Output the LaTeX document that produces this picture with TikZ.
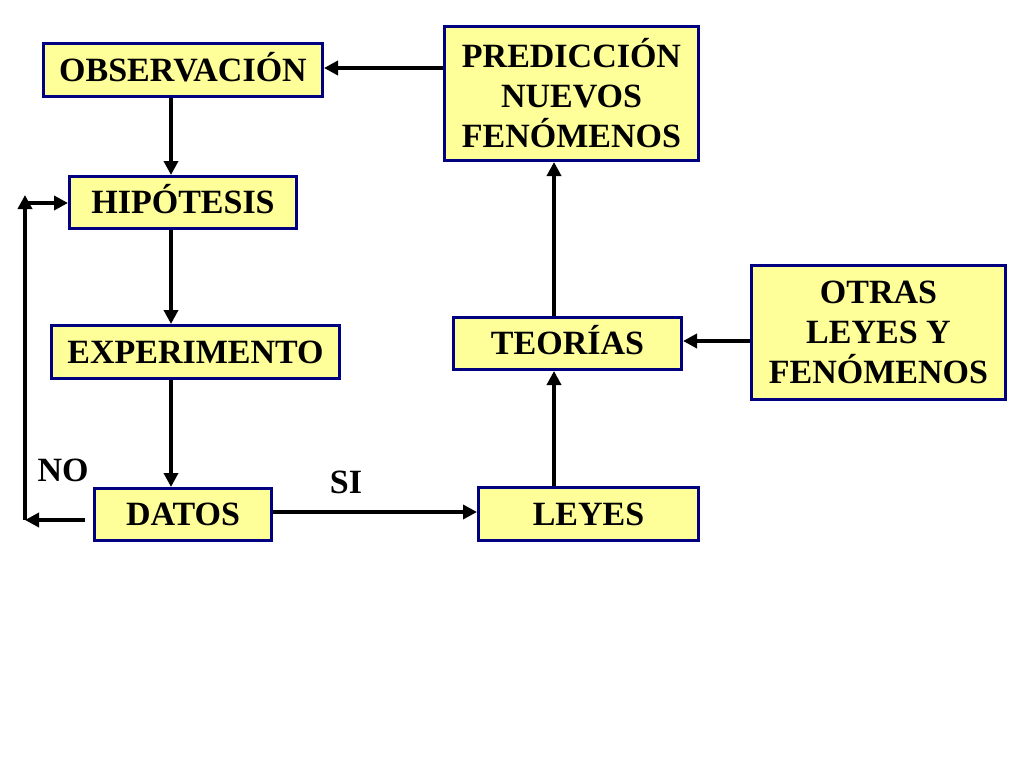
\documentclass[tikz,border=0pt]{standalone}
\usepackage{fontspec}
\setmainfont{Liberation Serif}
\usetikzlibrary{arrows.meta}
\definecolor{boxfill}{HTML}{FFFF99}
\definecolor{boxline}{HTML}{000080}
\begin{document}
\begin{tikzpicture}[x=1pt,y=-1pt,
  box/.style={draw=boxline,fill=boxfill,line width=3pt,inner sep=0pt,
    font=\fontsize{34}{40}\selectfont\bfseries,align=center},
  one/.style={text height=22.5pt,text depth=0pt},
  arr/.style={line width=4pt,-{Triangle[length=14pt,width=14pt]}},
  lbl/.style={font=\fontsize{34}{40}\selectfont\bfseries,inner sep=0pt}]
\useasboundingbox[fill=white] (0,0) rectangle (1024,768);
\node[box,one,minimum width=279pt,minimum height=53pt] (obs) at (183,70) {OBSERVACIÓN};
\node[box,minimum width=254pt,minimum height=134pt] (pred) at (571.5,93.5) {PREDICCIÓN\\NUEVOS\\FENÓMENOS};
\node[box,one,minimum width=227pt,minimum height=52pt] (hip) at (183,202.5) {HIPÓTESIS};
\node[box,one,minimum width=288pt,minimum height=53pt] (exp) at (195.5,352) {EXPERIMENTO};
\node[box,one,minimum width=228pt,minimum height=52pt] (teo) at (567.5,343.5) {TEORÍAS};
\node[box,minimum width=254pt,minimum height=134pt] (otr) at (878.5,332.5) {OTRAS\\LEYES Y\\FENÓMENOS};
\node[box,one,minimum width=177pt,minimum height=52pt] (dat) at (183,514.5) {DATOS};
\node[box,one,minimum width=220pt,minimum height=53pt] (ley) at (588.5,514) {LEYES};
\node[lbl] (no) at (63,470) {NO};
\node[lbl] (si) at (346,482) {SI};
\coordinate (xa) at (171,0);
\coordinate (xb) at (554,0);
\coordinate (nostart) at (85,520);
\coordinate (c1) at (25,520);
\coordinate (c2) at (25,203);
\coordinate (c3) at (25,195);
\draw[arr] (pred.west |- 0,68) -- (obs.east |- 0,68);
\draw[arr] (obs.south -| xa) -- (hip.north -| xa);
\draw[arr] (hip.south -| xa) -- (exp.north -| xa);
\draw[arr] (exp.south -| xa) -- (dat.north -| xa);
\draw[arr] (dat.east |- 0,512) -- (ley.west |- 0,512);
\draw[arr] (ley.north -| xb) -- (teo.south -| xb);
\draw[arr] (teo.north -| xb) -- (pred.south -| xb);
\draw[arr] (otr.west |- 0,341) -- (teo.east |- 0,341);
\draw[arr] (nostart) -- (c1);
\draw[arr] (c1) -- (c3);
\draw[arr] (c2) -- (hip.west |- c2);
\end{tikzpicture}
\end{document}
